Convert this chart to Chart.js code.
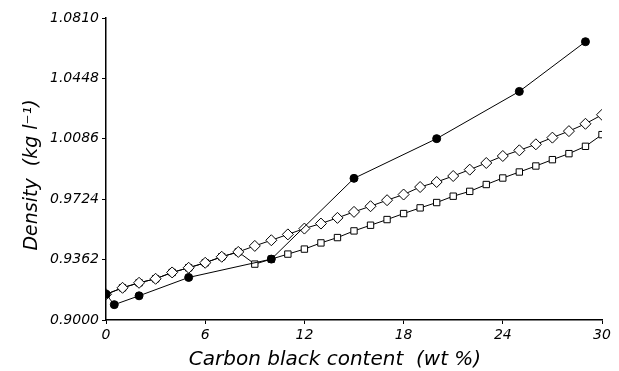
<!DOCTYPE html>
<html>
<head>
<meta charset="utf-8">
<script src="https://cdn.jsdelivr.net/npm/chart.js@4.4.0/dist/chart.umd.min.js"></script>
<style>
  html, body { margin: 0; padding: 0; background: #fff; }
  #wrap { width: 619px; height: 371px; }
</style>
</head>
<body>
<div id="wrap"><canvas id="c"></canvas></div>
<script>
// Carbon black content (wt %) and measured density (kg/l)
const contentDiamond = [0, 1, 2, 3, 4, 5, 6, 7, 8, 9, 10, 11, 12, 13, 14, 15, 16, 17, 18, 19, 20, 21, 22, 23, 24, 25, 26, 27, 28, 29, 30];
const densityDiamond = [0.9154, 0.9193, 0.9223, 0.9247, 0.9285, 0.9313, 0.9343, 0.9379, 0.9408, 0.9444, 0.9478, 0.9513, 0.9548, 0.9578, 0.9612, 0.9648, 0.9682, 0.9718, 0.9752, 0.9797, 0.9827, 0.9863, 0.9901, 0.9941, 0.9983, 1.0017, 1.0053, 1.0093, 1.0132, 1.0176, 1.0230];

const contentSquare = [0, 1, 2, 3, 4, 5, 6, 7, 8, 9, 10, 11, 12, 13, 14, 15, 16, 17, 18, 19, 20, 21, 22, 23, 24, 25, 26, 27, 28, 29, 30];
const densitySquare = [0.9154, 0.9193, 0.9223, 0.9247, 0.9285, 0.9313, 0.9343, 0.9379, 0.9408, 0.9335, 0.9365, 0.9395, 0.9425, 0.9462, 0.9494, 0.9534, 0.9568, 0.9602, 0.9638, 0.9672, 0.9704, 0.9742, 0.9771, 0.9812, 0.9851, 0.9887, 0.9923, 0.9961, 0.9997, 1.0041, 1.0111];

const contentFilled = [0, 0.5, 2, 5, 10, 15, 20, 25, 29];
const densityFilled = [0.9154, 0.9092, 0.9145, 0.9255, 0.9365, 0.9849, 1.0087, 1.0370, 1.0668];

const xTicks = [0, 6, 12, 18, 24, 30];
const yTicks = [0.9000, 0.9362, 0.9724, 1.0086, 1.0448, 1.0810];

const xTitle = 'Carbon black content  (wt %)';
const yTitle = 'Density  (kg l\u207B\u00B9)';

const toPoints = (xs, ys) => xs.map((x, i) => ({ x: x, y: ys[i] }));

const tickFont = { family: 'DejaVu Sans', size: 14, style: 'italic' };

// axis titles drawn by hand so they sit where the original has them
const axisTitles = {
    id: 'axisTitles',
    afterDraw(chart) {
        const ctx = chart.ctx;
        ctx.save();
        ctx.fillStyle = '#000';
        ctx.textAlign = 'center';
        ctx.textBaseline = 'alphabetic';
        ctx.font = 'italic 20px "DejaVu Sans"';
        ctx.fillText(xTitle, 335, 365);

        ctx.translate(37, 175);
        ctx.rotate(-Math.PI / 2);
        ctx.font = 'italic 19px "DejaVu Sans"';
        ctx.fillText(yTitle, 0, 0);
        ctx.restore();
    }
};

new Chart(document.getElementById('c'), {
    type: 'line',
    data: {
        datasets: [
            {
                data: toPoints(contentFilled, densityFilled),
                borderColor: '#000',
                backgroundColor: '#000',
                borderWidth: 1,
                pointStyle: 'circle',
                pointRadius: 4,
                pointBorderWidth: 1,
                pointBackgroundColor: '#000'
            },
            {
                data: toPoints(contentDiamond, densityDiamond),
                borderColor: '#000',
                borderWidth: 1,
                pointStyle: 'rectRot',
                pointRadius: 5.5,
                pointBorderWidth: 1,
                pointBackgroundColor: '#fff'
            },
            {
                data: toPoints(contentSquare, densitySquare),
                borderColor: '#000',
                borderWidth: 1,
                pointStyle: 'rect',
                pointRadius: 4.5,
                pointBorderWidth: 1,
                pointBackgroundColor: '#fff'
            }
        ]
    },
    plugins: [axisTitles],
    options: {
        responsive: true,
        maintainAspectRatio: false,
        animation: false,
        layout: { padding: { top: 18, right: 17, left: 0, bottom: 0 } },
        plugins: {
            legend: { display: false },
            tooltip: { enabled: false }
        },
        scales: {
            x: {
                type: 'linear',
                min: 0,
                max: 30,
                afterBuildTicks: (axis) => { axis.ticks = xTicks.map(v => ({ value: v })); },
                afterFit: (axis) => { axis.height = 51; },
                border: { color: '#000', width: 1.5 },
                grid: { drawOnChartArea: false, color: '#000', tickLength: 4 },
                ticks: { color: '#000', font: tickFont, padding: 3, maxRotation: 0 }
            },
            y: {
                type: 'linear',
                min: 0.9,
                max: 1.081,
                afterBuildTicks: (axis) => { axis.ticks = yTicks.map(v => ({ value: v })); },
                afterFit: (axis) => { axis.width = 106; },
                border: { color: '#000', width: 1.5 },
                grid: { drawOnChartArea: false, color: '#000', tickLength: 4 },
                ticks: {
                    color: '#000',
                    font: tickFont,
                    padding: 3,
                    callback: (value) => Number(value).toFixed(4)
                }
            }
        }
    }
});
</script>
</body>
</html>
